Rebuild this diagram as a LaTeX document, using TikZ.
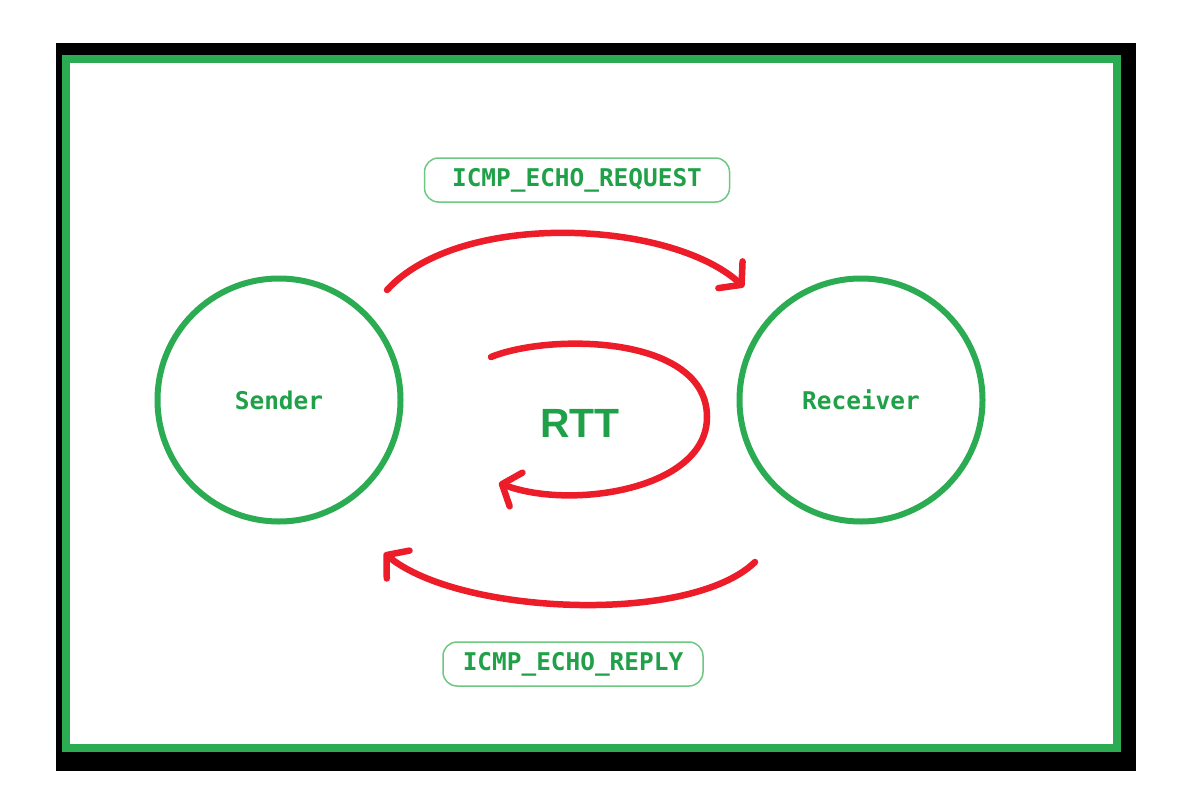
\documentclass[tikz,border=0pt]{standalone}
\usepackage{fontspec}
\newfontfamily\monob{DejaVu Sans Mono}
\newfontfamily\sansb{Liberation Sans}
\usetikzlibrary{arrows.meta}
\definecolor{grn}{RGB}{44,172,82}
\definecolor{grntxt}{RGB}{32,160,72}
\definecolor{grnbox}{RGB}{110,200,130}
\definecolor{rd}{RGB}{236,28,40}
\tikzset{
  host/.style={circle, draw=grn, line width=6bp, minimum size=243bp, inner sep=0pt,
    font=\monob\bfseries\fontsize{24.5}{24.5}\selectfont, text=grntxt},
  tag/.style={rounded corners=14bp, draw=grnbox, line width=1.5bp, minimum width=0bp,
    font=\monob\bfseries\fontsize{24.5}{24.5}\selectfont, text=grntxt},
  flow/.style={draw=rd, line width=6.5bp, line cap=round,
    -{Straight Barb[length=15bp,width=36bp,round]}},
}
\begin{document}
\begin{tikzpicture}[x=1bp,y=-1bp]
\useasboundingbox (0,0) rectangle (1194,788);
\fill[white] (0,0) rectangle (1194,788);
\fill[black] (56,43) rectangle (1136,771);
\fill[white] (66,59) rectangle (1117,748);
\draw[grn, line width=8bp] (66,59) rectangle (1117,748);

\node[host] (sender) at (279,400) {Sender};
\node[host] (receiver) at (861,400) {Receiver};

\node[tag, minimum width=305bp, minimum height=44bp] (req) at (577,180) {ICMP\_ECHO\_REQUEST};
\node[tag, minimum width=260bp, minimum height=44bp] (rep) at (573,664) {ICMP\_ECHO\_REPLY};

\node[font=\sansb\bfseries\fontsize{41}{41}\selectfont, text=grntxt] (rtt) at (580,423) {RTT};

\coordinate (s1) at (387,290);
\coordinate (r1) at (744,287);
\coordinate (r2) at (755,562);
\coordinate (s2) at (384,553);
\coordinate (l1) at (491,357);
\coordinate (l2) at (707,417);
\coordinate (l3) at (499,483);

\draw[flow] (s1) .. controls (460,210) and (670,220) .. (r1);
\draw[flow] (r2) .. controls (690,625) and (460,615) .. (s2);
\draw[flow] (l1) .. controls (550,333) and (707,335) .. (l2)
  .. controls (707,490) and (570,510) .. (l3);
\end{tikzpicture}
\end{document}
